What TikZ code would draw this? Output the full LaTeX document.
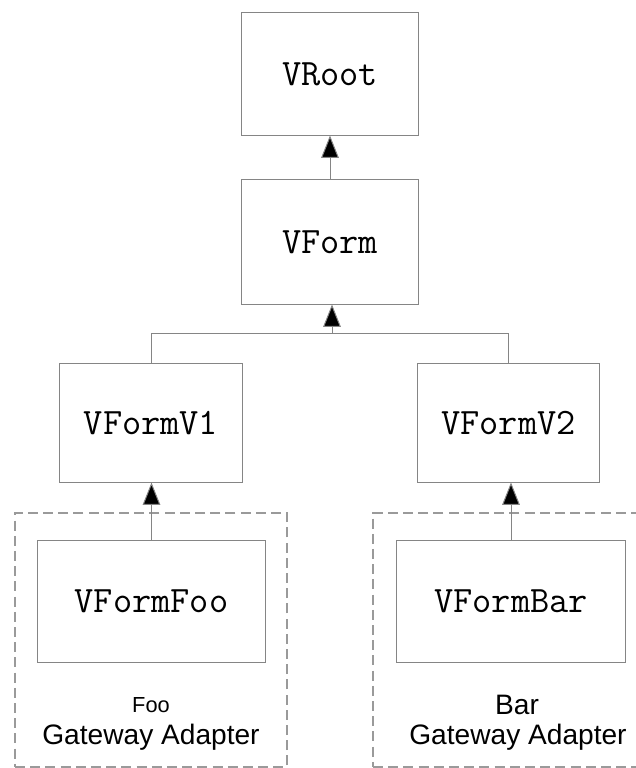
\documentclass[tikz,border=0pt]{standalone}
\usepackage{fontspec}
\setsansfont{Liberation Sans}
\usetikzlibrary{positioning,arrows.meta}
\definecolor{boxgray}{HTML}{858585}
\definecolor{dashgray}{HTML}{9A9A9A}
\tikzstyle{class}=[
	rectangle,
	draw=boxgray,
	line width=0.7pt,
	text centered,
	text=black,
	font=\ttfamily\fontsize{26.5}{30}\selectfont
	]
\tikzstyle{adapter}=[
	rectangle,
	draw=dashgray,
	line width=0.9pt,
	dash pattern=on 0.25cm off 0.13cm
	]
\tikzstyle{label}=[
	text=black,
	font=\sffamily\fontsize{20}{24}\selectfont
	]
\tikzstyle{inherit}=[
	draw=boxgray,
	line width=0.7pt,
	-{Triangle[length=0.56cm,width=0.44cm,fill=black]}
	]

\begin{document}
\begin{tikzpicture}[x=0.025cm, y=-0.025cm]

		\useasboundingbox (0,0) rectangle (636,768);

		% gateway adapter groups
		\node (FooGroup) [adapter, minimum width=6.8cm, minimum height=6.35cm] at (151,640) {};
		\node (BarGroup) [adapter, minimum width=6.825cm, minimum height=6.35cm] at (509.5,640) {};

		\node (VRoot) [class, minimum width=4.4cm, minimum height=3.05cm] at (330,74) {VRoot};
		\node (VForm) [class, minimum width=4.4cm, minimum height=3.1cm] at (330,242) {VForm};

		\node (VFormV1) [class, minimum width=4.55cm, minimum height=2.95cm] at (151,423) {VFormV1};
		\node (VFormV2) [class, minimum width=4.525cm, minimum height=2.95cm] at (508.5,423) {VFormV2};

		\node (VFormFoo) [class, minimum width=5.675cm, minimum height=3.025cm] at (151.5,601.5) {VFormFoo};
		\node (VFormBar) [class, minimum width=5.7cm, minimum height=3.025cm] at (511,601.5) {VFormBar};

		\node (FooName) [label, font=\sffamily\fontsize{15.5}{18}\selectfont] at (151,705) {Foo};
		\node (FooText) [label] at (151,737) {Gateway Adapter};
		\node (BarName) [label] at (517,705) {Bar};
		\node (BarText) [label] at (518,737) {Gateway Adapter};

		\coordinate (Join) at (332,333);

		\draw[inherit] (VForm.north) -- (VRoot.south);
		\draw[inherit] (VFormV1.north) |- (Join) -- (Join |- VForm.south);
		\draw[draw=boxgray, line width=0.7pt] (VFormV2.north) |- (Join);
		\draw[inherit] (VFormFoo.north) -- (VFormFoo.north |- VFormV1.south);
		\draw[inherit] (VFormBar.north) -- (VFormBar.north |- VFormV2.south);

	\end{tikzpicture}
\end{document}
